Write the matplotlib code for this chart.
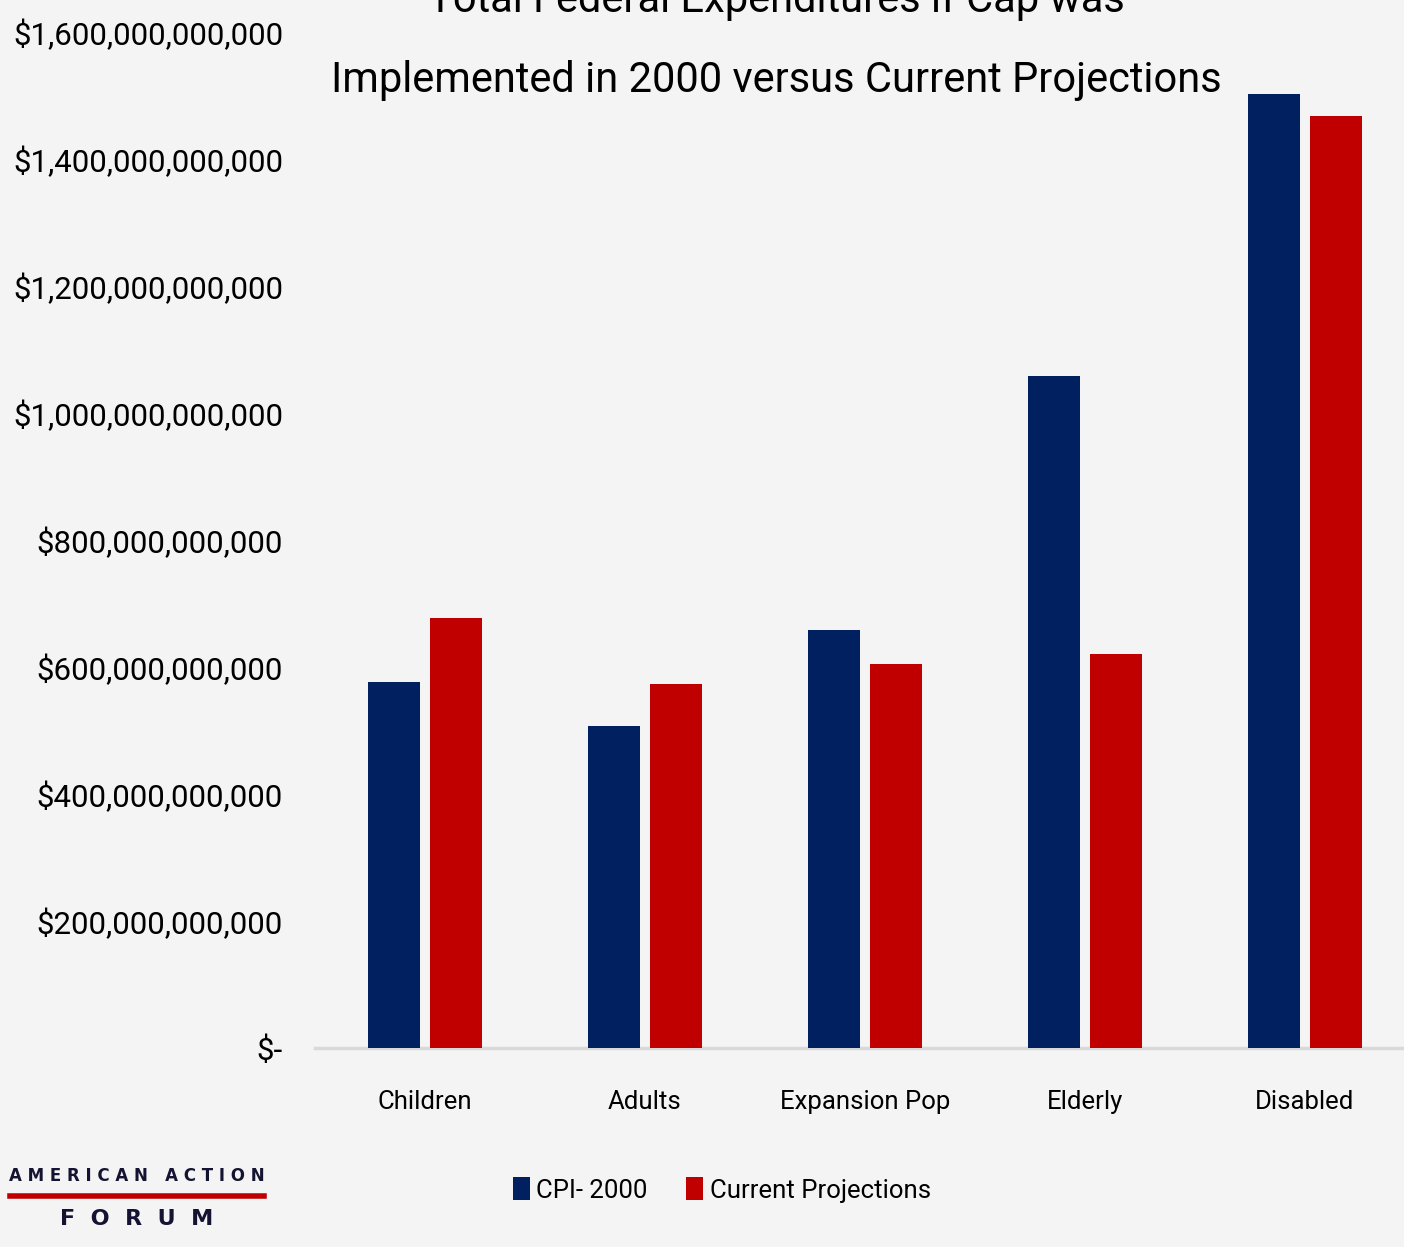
import numpy as np
import matplotlib
matplotlib.use('Agg')
import matplotlib.pyplot as plt
from matplotlib.ticker import FuncFormatter
from matplotlib.lines import Line2D

plt.rcParams['font.family'] = ['Roboto', 'DejaVu Sans']

categories = ['Children', 'Adults', 'Expansion Pop', 'Elderly', 'Disabled']
cpi_2000 = [576e9, 507e9, 658e9, 1058e9, 1502e9]
current_proj = [677e9, 573e9, 605e9, 620e9, 1468e9]

bg = '#F4F4F4'
navy = '#002060'
red = '#C00000'

fig = plt.figure(figsize=(14.04, 12.47), dpi=100, facecolor=bg)
ax = fig.add_axes([315/1404, 1 - 1048/1247, 1100/1404, 1016/1247])
ax.set_facecolor(bg)

x = np.arange(len(categories))
width = 0.235
ax.bar(x - 0.141, cpi_2000, width, color=navy, label='CPI- 2000', zorder=3)
ax.bar(x + 0.141, current_proj, width, color=red, label='Current Projections', zorder=3)

ax.set_xlim(-0.5, 4.5)
ax.set_ylim(0, 1.6e12)
ax.set_yticks(np.arange(0, 1.6e12 + 1, 2e11))

def money(v, pos):
    if v == 0:
        return '$-'
    return '${:,.0f}'.format(v)

ax.yaxis.set_major_formatter(FuncFormatter(money))
ax.set_xticks(x, categories)
ax.tick_params(axis='both', length=0)
ax.tick_params(axis='y', labelsize=22.5, pad=23)
ax.tick_params(axis='x', labelsize=18.5, pad=30)
for s in ['top', 'right', 'left']:
    ax.spines[s].set_visible(False)
ax.spines['bottom'].set_color('#D9D9D9')
ax.spines['bottom'].set_linewidth(2.5)

# title (top line is cut off by the image edge, as in the original)
fig.text(776/1404, 1 - 12/1247, 'Total Federal Expenditures if Cap was', ha='center',
         va='baseline', fontsize=30)
fig.text(776/1404, 1 - 92/1247, 'Implemented in 2000 versus Current Projections', ha='center',
         va='baseline', fontsize=30)

leg = fig.legend(loc='center', bbox_to_anchor=(722/1404, 1 - 1190/1247), ncol=2,
                 frameon=False, fontsize=18.5, handlelength=0.65, handleheight=1.0,
                 handletextpad=0.25, columnspacing=1.5)

# logo
fig.text(137/1404, 1 - 1176/1247, 'A M E R I C A N   A C T I O N', ha='center', va='center',
         fontsize=12, color='#141432', fontweight='bold', family=['DejaVu Sans'])
fig.add_artist(Line2D([10/1404, 264/1404], [1 - 1196/1247, 1 - 1196/1247], color=red, lw=4))
fig.text(137/1404, 1 - 1219/1247, 'F  O  R  U  M', ha='center', va='center',
         fontsize=16, color='#141432', fontweight='bold', family=['DejaVu Sans'])

plt.savefig('out.png', dpi=100, facecolor=bg)
